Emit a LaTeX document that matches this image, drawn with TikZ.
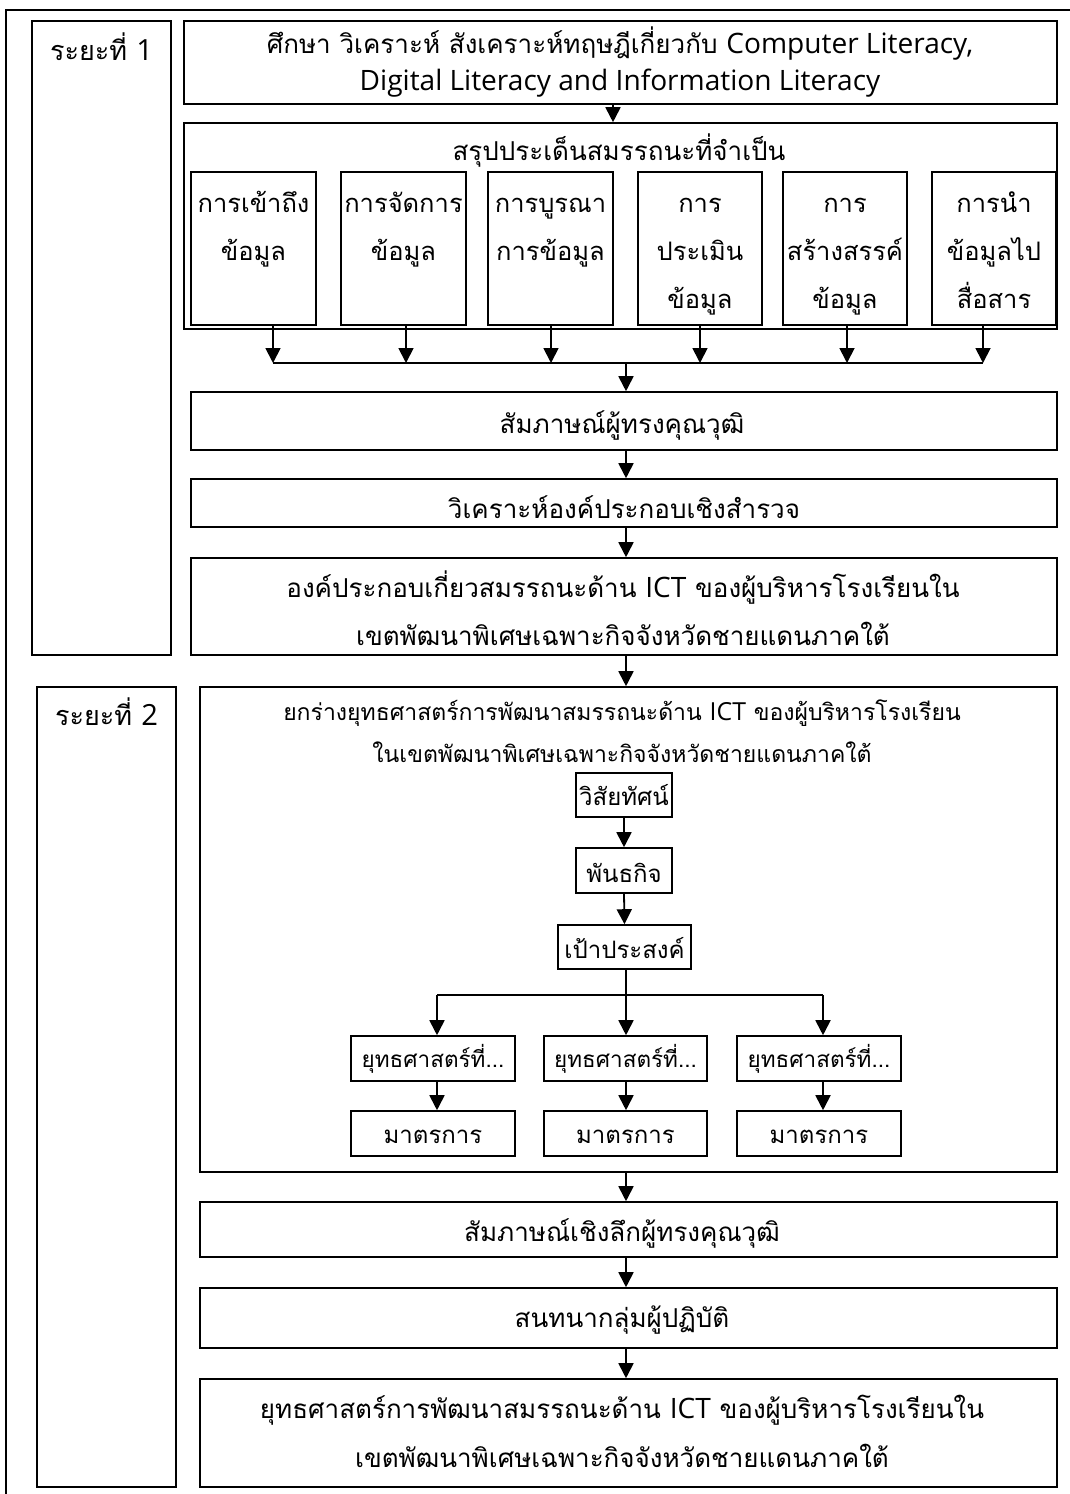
\documentclass[tikz,border=0pt]{standalone}
\usepackage{fontspec}
\setmainfont[Script=Thai]{Loma}
\newfontfamily\latinf[Scale=1.08]{Open Sans}
\usetikzlibrary{arrows.meta}
\newcommand\lt[1]{{\latinf #1}}
\newcommand\mlines[1]{\begin{tabular}[t]{@{}c@{}}#1\end{tabular}}
\newcommand\bx[5]{\node[box, minimum width={#4-#2}, minimum height={#5-#3}] (#1) at ({(#2+#4)/2},{(#3+#5)/2}) {};}
\begin{document}
\begin{tikzpicture}[x=1pt,y=-1pt,
  box/.style={draw, line width=1.6pt, inner sep=0pt},
  txt/.style={anchor=base, inner sep=0pt, font=\fontsize{26}{37}\selectfont},
  txtb/.style={anchor=base, inner sep=0pt, font=\fontsize{25.5}{48}\selectfont},
  txts/.style={anchor=base, inner sep=0pt, font=\fontsize{22.5}{30}\selectfont},
  arr/.style={line width=1.8pt, -{Triangle[width=15pt,length=15pt]}},
  ln/.style={line width=1.8pt}]
\useasboundingbox (0,0) rectangle (1070,1494);
\clip (0,0) rectangle (1070,1494);
\fill[white] (0,0) rectangle (1070,1494);
\draw[line width=1.6pt] (6,10) rectangle (1100,1520);
% boxes
\bx{p1}{32}{21}{171}{655}
\bx{top}{184}{21}{1057}{104}
\bx{sum}{184}{123}{1057}{329}
\bx{b1}{191}{172}{316}{325}
\bx{b2}{341}{172}{466}{325}
\bx{b3}{488}{172}{613}{325}
\bx{b4}{638}{172}{762}{325}
\bx{b5}{783}{172}{907}{325}
\bx{b6}{932}{172}{1056}{325}
\bx{intv}{191}{392}{1057}{450}
\bx{ana}{191}{479}{1057}{527}
\bx{comp}{191}{558}{1057}{655}
\bx{p2}{37}{687}{176}{1487}
\bx{draft}{200}{687}{1057}{1172}
\bx{vis}{576}{773}{672}{817}
\bx{mis}{576}{848}{672}{893}
\bx{goal}{558}{925}{691}{969}
\bx{s1}{351}{1036}{515}{1081}
\bx{s2}{544}{1036}{707}{1081}
\bx{s3}{737}{1036}{901}{1081}
\bx{m1}{351}{1111}{515}{1156}
\bx{m2}{544}{1111}{707}{1156}
\bx{m3}{737}{1111}{901}{1156}
\bx{deep}{200}{1202}{1057}{1257}
\bx{focus}{200}{1288}{1057}{1348}
\bx{final}{200}{1379}{1057}{1487}
% texts
\node[txt,font=\fontsize{27}{36}\selectfont] (p1t) at (101.5,60) {ระยะที่ \lt{1}};
\node[txt] (topt) at (620,53) {\mlines{ศึกษา วิเคราะห์ สังเคราะห์ทฤษฎีเกี่ยวกับ \lt{Computer Literacy,}\\\lt{Digital Literacy and Information Literacy}}};
\node[txt] (sumt) at (619,160) {สรุปประเด็นสมรรถนะที่จำเป็น};
\node[txtb] (b1t) at (253.5,212) {\mlines{การเข้าถึง\\ข้อมูล}};
\node[txtb] (b2t) at (403.5,212) {\mlines{การจัดการ\\ข้อมูล}};
\node[txtb] (b3t) at (550.5,212) {\mlines{การบูรณา\\การข้อมูล}};
\node[txtb] (b4t) at (700,212) {\mlines{การ\\ประเมิน\\ข้อมูล}};
\node[txtb] (b5t) at (845,212) {\mlines{การ\\สร้างสรรค์\\ข้อมูล}};
\node[txtb] (b6t) at (994,212) {\mlines{การนำ\\ข้อมูลไป\\สื่อสาร}};
\node[txt] (intvt) at (622,433) {สัมภาษณ์ผู้ทรงคุณวุฒิ};
\node[txt] (anat) at (624,518) {วิเคราะห์องค์ประกอบเชิงสำรวจ};
\node[txt,font=\fontsize{26}{48}\selectfont] (compt) at (623,597) {\mlines{องค์ประกอบเกี่ยวสมรรถนะด้าน \lt{ICT} ของผู้บริหารโรงเรียนใน\\เขตพัฒนาพิเศษเฉพาะกิจจังหวัดชายแดนภาคใต้}};
\node[txt,font=\fontsize{27}{36}\selectfont] (p2t) at (106.5,725) {ระยะที่ \lt{2}};
\node[txt,font=\fontsize{23}{42}\selectfont] (draftt) at (622,720) {\mlines{ยกร่างยุทธศาสตร์การพัฒนาสมรรถนะด้าน \lt{ICT} ของผู้บริหารโรงเรียน\\ในเขตพัฒนาพิเศษเฉพาะกิจจังหวัดชายแดนภาคใต้}};
\node[txt,font=\fontsize{24}{30}\selectfont] (vist) at (624,805) {วิสัยทัศน์};
\node[txt,font=\fontsize{24}{30}\selectfont] (mist) at (624,882) {พันธกิจ};
\node[txt,font=\fontsize{24}{30}\selectfont] (goalt) at (624.5,958) {เป้าประสงค์};
\node[txts] (s1t) at (433,1067) {ยุทธศาสตร์ที่...};
\node[txts] (s2t) at (625.5,1067) {ยุทธศาสตร์ที่...};
\node[txts] (s3t) at (819,1067) {ยุทธศาสตร์ที่...};
\node[txts,font=\fontsize{24}{30}\selectfont] (m1t) at (433,1143) {มาตรการ};
\node[txts,font=\fontsize{24}{30}\selectfont] (m2t) at (625.5,1143) {มาตรการ};
\node[txts,font=\fontsize{24}{30}\selectfont] (m3t) at (819,1143) {มาตรการ};
\node[txt] (deept) at (622,1241) {สัมภาษณ์เชิงลึกผู้ทรงคุณวุฒิ};
\node[txt] (focust) at (622,1327) {สนทนากลุ่มผู้ปฏิบัติ};
\node[txt,font=\fontsize{26}{49}\selectfont] (finalt) at (622,1418) {\mlines{ยุทธศาสตร์การพัฒนาสมรรถนะด้าน \lt{ICT} ของผู้บริหารโรงเรียนใน\\เขตพัฒนาพิเศษเฉพาะกิจจังหวัดชายแดนภาคใต้}};
% connectors
\coordinate (ta) at (613,0);
\coordinate (mx) at (626,0);
\coordinate (bus1) at (273,363);
\coordinate (bus2) at (406,363);
\coordinate (bus3) at (551,363);
\coordinate (bus4) at (700,363);
\coordinate (bus5) at (847,363);
\coordinate (bus6) at (983,363);
\coordinate (busc) at (626,363);
\draw[arr] (top.south -| ta) -- (sum.north -| ta);
\foreach \i in {1,...,6} {\draw[arr] (b\i.south -| bus\i) -- (bus\i);}
\draw[ln] (bus1) -- (bus6);
\draw[arr] (busc) -- (intv.north -| busc);
\draw[arr] (intv.south -| mx) -- (ana.north -| mx);
\draw[arr] (ana.south -| mx) -- (comp.north -| mx);
\draw[arr] (comp.south -| mx) -- (draft.north -| mx);
\draw[arr] (vis.south) -- (mis.north);
\draw[arr] (mis.south) -- (goal.north);
\coordinate (sp1) at (437,995);
\coordinate (spc) at (626,995);
\coordinate (sp3) at (823,995);
\draw[ln] (goal.south -| spc) -- (spc);
\draw[ln] (sp1) -- (sp3);
\draw[arr] (sp1) -- (s1.north -| sp1);
\draw[arr] (spc) -- (s2.north -| spc);
\draw[arr] (sp3) -- (s3.north -| sp3);
\draw[arr] (s1.south -| sp1) -- (m1.north -| sp1);
\draw[arr] (s2.south -| spc) -- (m2.north -| spc);
\draw[arr] (s3.south -| sp3) -- (m3.north -| sp3);
\draw[arr] (draft.south -| mx) -- (deep.north -| mx);
\draw[arr] (deep.south -| mx) -- (focus.north -| mx);
\draw[arr] (focus.south -| mx) -- (final.north -| mx);
\end{tikzpicture}
\end{document}
